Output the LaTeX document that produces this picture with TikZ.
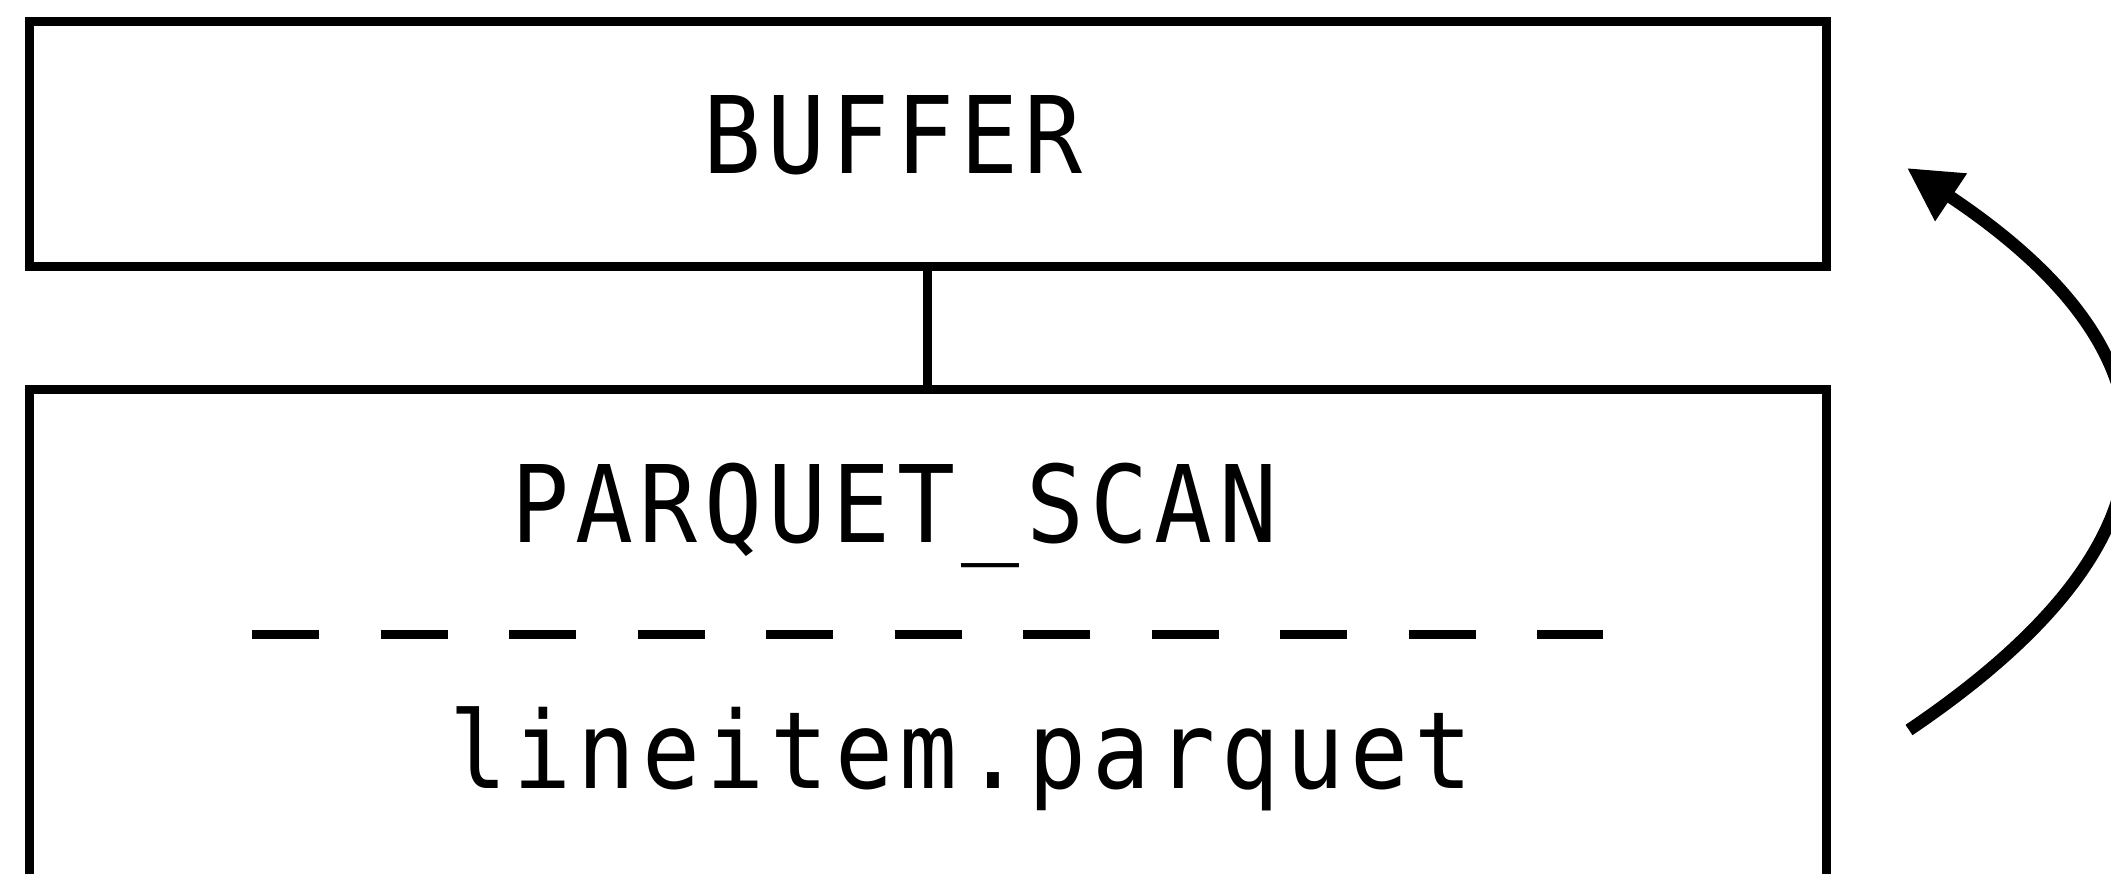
\documentclass[tikz,border=0pt]{standalone}
\usepackage{fontspec}
\newfontfamily\planmono[FakeStretch=0.9, LetterSpace=6]{DejaVu Sans Mono}
\usetikzlibrary{arrows.meta}
\tikzset{
  opbox/.style={draw=black, line width=9pt, inner sep=0pt, outer sep=0pt, rectangle},
  oplabel/.style={inner sep=0pt, outer sep=0pt, anchor=base west, font=\planmono\fontsize{107pt}{120pt}\selectfont},
  link/.style={draw=black, line width=9pt},
  sepline/.style={draw=black, line width=9pt, dash pattern=on 67pt off 61.5pt},
  loopline/.style={draw=black, line width=12.5pt, -{Triangle[length=53pt, width=54pt]}}
}
\begin{document}
\begin{tikzpicture}[x=1pt, y=-1pt]
\useasboundingbox (0,0) rectangle (2111,874);
\clip (0,0) rectangle (2111,874);
\fill[white] (0,0) rectangle (2111,874);
% boxes
\node[opbox, minimum width=1797.5pt, minimum height=245pt] (buffer) at (927.75,144) {};
\node[opbox, minimum width=1797.5pt, minimum height=610.5pt] (scan) at (927.75,694.75) {};
% texts
\node[oplabel] (tbuffer) at (703,174) {BUFFER};
\node[oplabel] (tscan) at (511,542.7) {PARQUET\_SCAN};
\node[oplabel] (tfile) at (449,788) {lineitem.parquet};
% separator
\coordinate (sepL) at (252,634.5);
\coordinate (sepR) at (1603,634.5);
\draw[sepline] (sepL) -- (sepR);
% connector
\draw[link] (buffer.south) -- (scan.north);
% loop arrow
\coordinate (loopstart) at (1909,730);
\coordinate (looptip) at (1907,168);
\draw[loopline] (loopstart) .. controls (2193,538) and (2192,358) .. (looptip);
\end{tikzpicture}
\end{document}
